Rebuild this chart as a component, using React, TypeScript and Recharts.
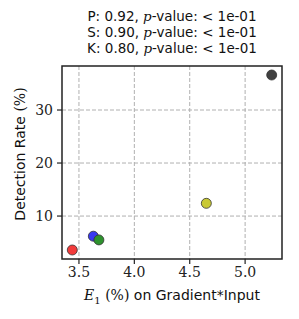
import React from "react";
import { ScatterChart, Scatter, XAxis, YAxis, CartesianGrid, ReferenceArea, Cell } from "recharts";

const methods = ["m1", "m2", "m3", "m4", "m5"];
const e1Values = [3.44, 3.63, 3.68, 4.65, 5.24];
const detectionRates = [3.6, 6.2, 5.5, 12.4, 36.6];
const pointColors = ["#f23b3b", "#3838f0", "#2e922e", "#c9c935", "#404040"];
const xTicks = [3.5, 4.0, 4.5, 5.0];
const yTicks = [10, 20, 30];
const titleLines = [
  { name: "P", value: "0.92" },
  { name: "S", value: "0.90" },
  { name: "K", value: "0.80" },
];

const data = methods.map((m, i) => ({ name: m, x: e1Values[i], y: detectionRates[i] }));

const X_DOMAIN: [number, number] = [3.347, 5.333];
const Y_DOMAIN: [number, number] = [1.9, 38.3];

const serif = "'DejaVu Serif', 'Liberation Serif', serif";
const sans = "'DejaVu Sans', sans-serif";

export default function App() {
  return (
    <div style={{ position: "absolute", left: 0, top: 0, width: 299, height: 319, background: "#fff" }}>
      <ScatterChart width={299} height={319} margin={{ top: 66, right: 17, bottom: 30, left: 22 }}>
        <CartesianGrid stroke="#b0b0b0" strokeDasharray="4 2" verticalValues={xTicks} horizontalValues={yTicks} />
        <XAxis
          type="number"
          dataKey="x"
          domain={X_DOMAIN}
          ticks={xTicks}
          height={30}
          allowDataOverflow
          interval={0}
          tickFormatter={(v: number) => v.toFixed(1)}
          tick={{ fill: "#222", fontSize: 14, fontFamily: serif }}
          tickSize={5}
          tickMargin={3}
          axisLine={false}
          tickLine={{ stroke: "#222", strokeWidth: 1.2 }}
        />
        <YAxis
          type="number"
          dataKey="y"
          domain={Y_DOMAIN}
          ticks={yTicks}
          width={40}
          allowDataOverflow
          interval={0}
          tick={{ fill: "#222", fontSize: 14, fontFamily: serif }}
          tickSize={5}
          tickMargin={4}
          axisLine={false}
          tickLine={{ stroke: "#222", strokeWidth: 1.2 }}
        />
        <ReferenceArea
          x1={X_DOMAIN[0]}
          x2={X_DOMAIN[1]}
          y1={Y_DOMAIN[0]}
          y2={Y_DOMAIN[1]}
          fill="none"
          stroke="#222"
          strokeWidth={1.5}
          ifOverflow="extendDomain"
        />
        <Scatter data={data} isAnimationActive={false} shape={(p: any) => (
          <circle cx={p.cx} cy={p.cy} r={5} fill={p.fill} stroke="#333" strokeWidth={0.8} />
        )}>
          {data.map((d, i) => (
            <Cell key={d.name} fill={pointColors[i]} />
          ))}
        </Scatter>
      </ScatterChart>
      <div
        style={{
          position: "absolute",
          left: 62,
          width: 220,
          top: 8,
          textAlign: "center",
          fontFamily: sans,
          fontSize: 13.5,
          lineHeight: "16px",
          color: "#111",
          whiteSpace: "nowrap",
        }}
      >
        {titleLines.map((t) => (
          <div key={t.name}>
            {t.name}: {t.value}, <span style={{ fontFamily: serif, fontStyle: "italic" }}>p</span>-value:{" "}
            <span style={{ fontFamily: serif }}>&lt;</span> 1e-01
          </div>
        ))}
      </div>
      <div
        style={{
          position: "absolute",
          left: 62,
          width: 220,
          top: 287,
          textAlign: "center",
          fontFamily: sans,
          fontSize: 14,
          color: "#111",
          whiteSpace: "nowrap",
        }}
      >
        <span style={{ fontFamily: serif, fontStyle: "italic" }}>E</span>
        <sub style={{ fontFamily: serif, fontSize: 10 }}>1</sub>{" "}
        <span style={{ fontFamily: serif }}>(%)</span> on Gradient*Input
      </div>
      <div
        style={{
          position: "absolute",
          left: 20 - 110,
          top: 154 - 10,
          width: 220,
          height: 20,
          lineHeight: "20px",
          textAlign: "center",
          transform: "rotate(-90deg)",
          fontFamily: sans,
          fontSize: 14,
          color: "#111",
          whiteSpace: "nowrap",
        }}
      >
        Detection Rate <span style={{ fontFamily: serif }}>(%)</span>
      </div>
    </div>
  );
}
